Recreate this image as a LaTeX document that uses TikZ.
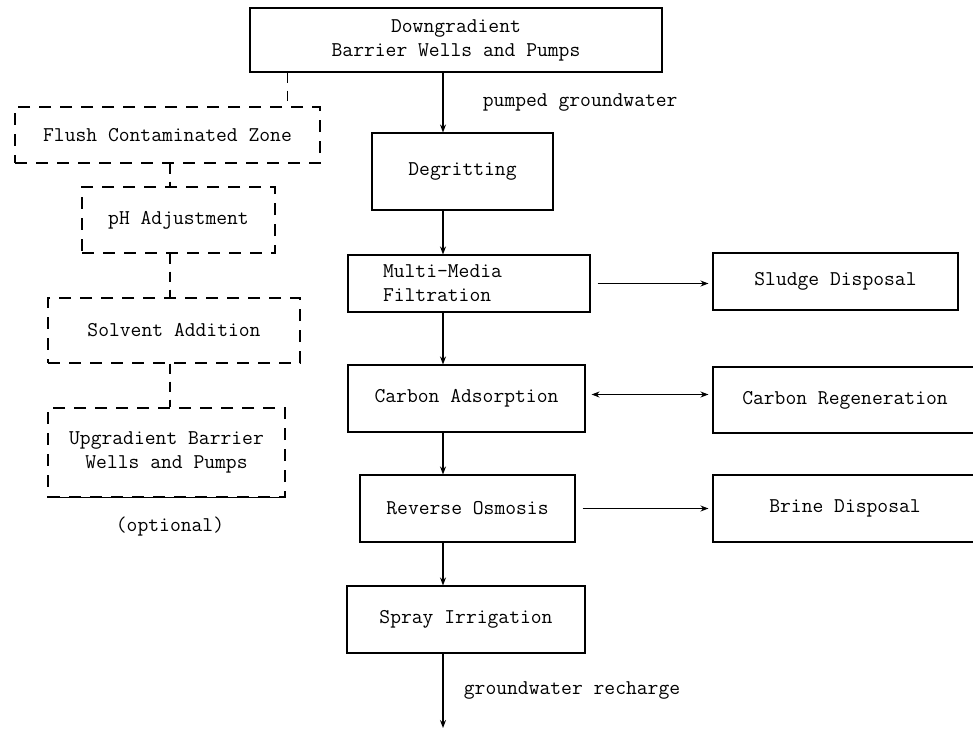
\documentclass[tikz,border=0pt]{standalone}
\usetikzlibrary{arrows.meta}

\begin{document}
\begin{tikzpicture}[x=1pt,y=-1pt,
    every node/.style={font=\ttfamily\fontsize{21}{24}\selectfont},
    box/.style={draw, line width=1.1pt, rectangle, inner sep=0pt, align=center},
    dbox/.style={box, dash pattern=on 12pt off 9pt},
    flow/.style={line width=1.1pt, -{Stealth[length=8pt,width=6pt]}},
    link/.style={line width=1.1pt, dash pattern=on 10pt off 8pt}]
    \useasboundingbox (0,0) rectangle (973,728);
    \coordinate (spine) at (443,0);
    \coordinate (lspine) at (170,0);

    % treatment train
    \node[box, minimum width=412pt, minimum height=64pt] (down) at (456,40) {Downgradient\\Barrier Wells and Pumps};
    \node[box, minimum width=181pt, minimum height=77pt] (degr) at (462.5,171.5) {Degritting};
    \node[box, minimum height=57pt, text width=172pt, inner xsep=35pt, align=left] (mmf) at (469,283.5) {Multi-Media\\Filtration};
    \node[box, minimum width=237pt, minimum height=67pt] (cads) at (466.5,398.5) {Carbon Adsorption};
    \node[box, minimum width=215pt, minimum height=67pt] (ro) at (467.5,508.5) {Reverse Osmosis};
    \node[box, minimum width=238pt, minimum height=67pt] (spray) at (466,619.5) {Spray Irrigation};
    \coordinate (recharge) at (443,728);

    % side streams
    \node[box, minimum width=245pt, minimum height=57pt] (sludge) at (835.5,281.5) {Sludge Disposal};
    \node[box, minimum width=264pt, minimum height=66pt] (creg) at (845,400) {Carbon Regeneration};
    \node[box, minimum width=264pt, minimum height=67pt] (brine) at (845,508.5) {Brine Disposal};

    % optional flushing (dashed)
    \node[dbox, minimum width=305pt, minimum height=56pt] (flush) at (167.5,135) {Flush Contaminated Zone};
    \node[dbox, minimum width=193pt, minimum height=66pt] (ph) at (178.5,220) {pH Adjustment};
    \node[dbox, minimum width=252pt, minimum height=65pt] (solv) at (174,330.5) {Solvent Addition};
    \node[dbox, minimum width=237pt, minimum height=89pt] (upg) at (166.5,452.5) {Upgradient Barrier\\Wells and Pumps};
    \draw[line width=1.1pt] (upg.south west) -- (upg.south east);
    \node (opt) at (170,527) {(optional)};

    \draw[flow] (down.south -| spine) -- (degr.north -| spine) node[midway, right=36pt] {pumped groundwater};
    \draw[flow] (degr.south -| spine) -- (mmf.north -| spine);
    \draw[flow] (mmf.south -| spine) -- (cads.north -| spine);
    \draw[flow] (cads.south -| spine) -- (ro.north -| spine);
    \draw[flow] (ro.south -| spine) -- (spray.north -| spine);
    \draw[flow] (spray.south -| spine) -- (recharge) node[midway, right=17pt] {groundwater recharge};

    \draw[flow, shorten <=7pt, shorten >=4pt] (mmf.east) -- (mmf.east -| sludge.west);
    \draw[flow, {Stealth[length=8pt,width=6pt]}-{Stealth[length=8pt,width=6pt]}, shorten <=6pt, shorten >=4pt] ([yshift=4pt]cads.east) -- ([yshift=4pt]cads.east -| creg.west);
    \draw[flow, shorten <=7pt, shorten >=4pt] (ro.east) -- (ro.east -| brine.west);

    \draw[link] ([xshift=38pt]down.south west) -- ([xshift=38pt]down.south west |- flush.north);
    \draw[link] (flush.south -| lspine) -- (ph.north -| lspine);
    \draw[link] (ph.south -| lspine) -- (solv.north -| lspine);
    \draw[link] (solv.south -| lspine) -- (upg.north -| lspine);
\end{tikzpicture}
\end{document}
